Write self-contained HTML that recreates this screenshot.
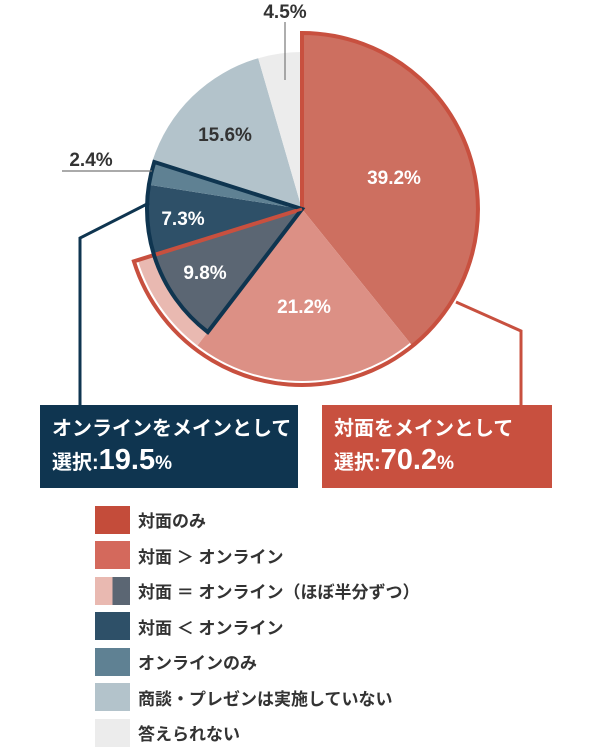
<!DOCTYPE html>
<html><head><meta charset="utf-8"><style>
body{margin:0;background:#fff;width:600px;height:748px;overflow:hidden;font-family:"Liberation Sans","Noto Sans CJK JP",sans-serif;}
.box{position:absolute;color:#fff;font-weight:bold;font-size:20px;line-height:31px;padding:9px 0 0 12px;box-sizing:border-box}
.big{font-size:29px}
.pc{font-size:19px}
.leg{position:absolute;left:95px;font-size:17px;font-weight:bold;color:#333}
.leg div{height:35.5px;display:flex;align-items:center}
.sq{width:35px;height:28px;margin-right:8px;flex:none}
</style></head><body>
<svg width="600" height="500" style="position:absolute;left:0;top:0" font-family="Liberation Sans, Noto Sans CJK JP, sans-serif" font-weight="bold">
<path d="M302,209 L302,33 A176,176 0 0 1 412.5,346 Z" fill="#cd6f60"/>
<path d="M302,209 L410,342.9 A172,172 0 0 1 197.4,345.5 Z" fill="#dc9085"/>
<path d="M302,209 L197.4,345.5 A172,172 0 0 1 137.8,260.1 Z" fill="#e9b9b1"/>
<path d="M302,209 L152.3,161.4 A157,157 0 0 1 258.2,58.2 Z" fill="#b3c3cb"/>
<path d="M302,209 L258.2,58.2 A157,157 0 0 1 302,52 Z" fill="#ececec"/>
<path d="M302,209 L207.8,332.1 A155,155 0 0 1 154,255 Z" fill="#5b6673"/>
<path d="M302,209 L154,255 A155,155 0 0 1 148.9,184.8 Z" fill="#2e5068"/>
<path d="M302,209 L148.9,184.8 A155,155 0 0 1 154.3,162 Z" fill="#5f8193"/>
<path d="M302,209 L302,33 A176,176 0 1 1 133.9,261.3 Z" fill="none" stroke="#c8503f" stroke-width="4" stroke-linejoin="miter"/>
<path d="M302,209 L207.8,332.1 A155,155 0 0 1 154.3,162 Z" fill="none" stroke="#0f3550" stroke-width="4"/>
<line x1="302" y1="209" x2="158" y2="254" stroke="#c8503f" stroke-width="3"/>
<polyline points="456,302 521,331 521,406" fill="none" stroke="#c8503f" stroke-width="3"/>
<polyline points="149,203 80,238 80,406" fill="none" stroke="#0f3550" stroke-width="3"/>
<line x1="62" y1="171" x2="152" y2="171" stroke="#777" stroke-width="1.2"/>
<line x1="285" y1="22" x2="285" y2="80" stroke="#777" stroke-width="1.2"/>
<g font-size="19" text-anchor="middle">
<text x="285" y="18" fill="#333">4.5%</text>
<text x="91" y="166" fill="#333">2.4%</text>
<text x="225" y="141" fill="#333">15.6%</text>
<text x="394" y="184" fill="#fff">39.2%</text>
<text x="183" y="225" fill="#fff">7.3%</text>
<text x="205" y="279" fill="#fff">9.8%</text>
<text x="304" y="313" fill="#fff">21.2%</text>
</g>
</svg>
<div class="box" style="left:40px;top:405px;width:258px;height:83px;background:#0f3550">オンラインをメインとして<br>選択:<span class="big">19.5</span><span class="pc">%</span></div>
<div class="box" style="left:322px;top:405px;width:230px;height:83px;background:#c8503f">対面をメインとして<br>選択:<span class="big">70.2</span><span class="pc">%</span></div>
<div class="leg" style="top:502px">
<div><span class="sq" style="background:#c44c3a"></span>対面のみ</div>
<div><span class="sq" style="background:#d4695c"></span>対面 ＞ オンライン</div>
<div><span class="sq" style="background:linear-gradient(90deg,#e9b9b1 50%,#5b6673 50%)"></span>対面 ＝ オンライン（ほぼ半分ずつ）</div>
<div><span class="sq" style="background:#2e5068"></span>対面 ＜ オンライン</div>
<div><span class="sq" style="background:#5f8193"></span>オンラインのみ</div>
<div><span class="sq" style="background:#b3c3cb"></span>商談・プレゼンは実施していない</div>
<div><span class="sq" style="background:#ececec"></span>答えられない</div>
</div>
</body></html>
